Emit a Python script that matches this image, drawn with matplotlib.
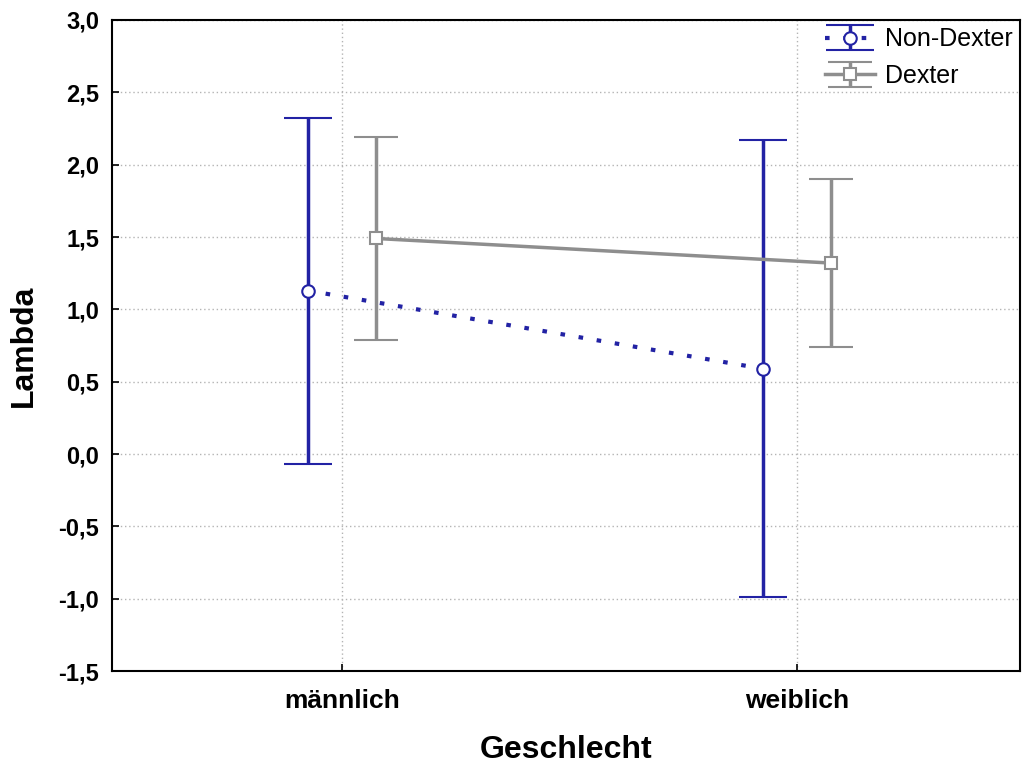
import matplotlib
matplotlib.use("Agg")
import matplotlib.pyplot as plt
import numpy as np

# data
categories = ["männlich", "weiblich"]
non_dexter_mean = [1.13, 0.59]
non_dexter_low = [-0.07, -0.99]
non_dexter_high = [2.32, 2.17]
dexter_mean = [1.49, 1.32]
dexter_low = [0.79, 0.74]
dexter_high = [2.19, 1.90]

yticks = np.arange(-1.5, 3.01, 0.5)
ytick_labels = [f"{v:.1f}".replace(".", ",") for v in yticks]

plt.rcParams['font.family'] = ['Liberation Sans', 'DejaVu Sans']

blue = "#2222a4"
grey = "#8e8e8e"

fig = plt.figure(figsize=(10.26, 7.67), dpi=100)
ax = fig.add_axes([0.109, 0.125, 0.885, 0.849])

x = np.arange(len(categories))
off = 0.075

nd_err = [np.subtract(non_dexter_mean, non_dexter_low), np.subtract(non_dexter_high, non_dexter_mean)]
d_err = [np.subtract(dexter_mean, dexter_low), np.subtract(dexter_high, dexter_mean)]

ax.errorbar(x - off, non_dexter_mean, yerr=nd_err, color=blue, lw=3, ls=(0, (1.1, 3.3)),
            marker="o", ms=9, mfc="white", mec=blue, mew=1.5,
            elinewidth=2.5, capsize=17, capthick=2.5, label="Non-Dexter", zorder=3)
ax.errorbar(x + off, dexter_mean, yerr=d_err, color=grey, lw=2.5, ls="-",
            marker="s", ms=9, mfc="white", mec=grey, mew=1.5,
            elinewidth=2.5, capsize=16, capthick=2.5, label="Dexter", zorder=3)

ax.set_xlim(-0.505, 1.49)
ax.set_ylim(-1.5, 3.0)
ax.set_xticks(x)
ax.set_xticklabels(categories, fontsize=19, fontweight="bold")
ax.set_yticks(yticks)
ax.set_yticklabels(ytick_labels, fontsize=17, fontweight="bold")
ax.tick_params(direction="in", length=5, width=1.2, pad=9)
ax.tick_params(axis="x", pad=13)

ax.grid(True, color="#b4b4b4", ls=(0, (1, 2)), lw=1)
ax.set_axisbelow(True)
for s in ax.spines.values():
    s.set_linewidth(1.5)

ax.set_ylabel("Lambda", fontsize=23, fontweight="bold", labelpad=14)
ax.set_xlabel("Geschlecht", fontsize=23, fontweight="bold", labelpad=16)

leg = ax.legend(loc="upper right", frameon=False, fontsize=18, borderaxespad=0.0,
                borderpad=0.3, handlelength=2.0, handletextpad=0.4, labelspacing=0.5)

fig.savefig("out.png", dpi=100)
